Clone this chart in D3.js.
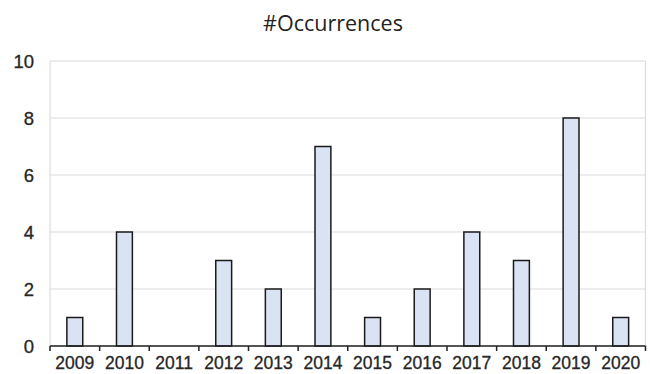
<!DOCTYPE html>
<html><head><meta charset="utf-8">
<script src="https://cdn.jsdelivr.net/npm/d3@7"></script>
<style>body{margin:0;background:#fff}svg{display:block}</style>
</head><body>
<svg id="c" width="650" height="374"></svg>
<script>
const categories = ["2009","2010","2011","2012","2013","2014","2015","2016","2017","2018","2019","2020"];
const values = [1,4,0,3,2,7,1,2,4,3,8,1];
const yTicks = [0,2,4,6,8,10];
const title = "#Occurrences";

const svg = d3.select("#c");
const m = {l:50, r:4.5, t:61, b:28};
const W = 650, H = 374;
const x = d3.scaleBand().domain(categories).range([m.l, W - m.r]).paddingInner(0).paddingOuter(0);
const y = d3.scaleLinear().domain([0,10]).range([H - m.b, m.t]);

// grid
svg.append("g").selectAll("line").data(yTicks).join("line")
  .attr("x1", m.l).attr("x2", W - m.r)
  .attr("y1", d => y(d)).attr("y2", d => y(d))
  .attr("stroke", "#dcdcdc").attr("stroke-width", 1.2);
svg.append("line").attr("x1", m.l).attr("x2", m.l).attr("y1", y(10)).attr("y2", y(0)).attr("stroke", "#dcdcdc").attr("stroke-width", 1.2);
svg.append("line").attr("x1", W - m.r).attr("x2", W - m.r).attr("y1", y(10)).attr("y2", y(0)).attr("stroke", "#dcdcdc").attr("stroke-width", 1.2);

// bars
const bw = x.bandwidth() * 0.32;
svg.append("g").selectAll("rect").data(values.map((v,i)=>({c:categories[i], v}))).join("rect")
  .filter(d => d.v > 0)
  .attr("x", d => x(d.c) + x.bandwidth()/2 - bw/2)
  .attr("width", bw)
  .attr("y", d => y(d.v))
  .attr("height", d => y(0) - y(d.v))
  .attr("fill", "#dae3f3").attr("stroke", "#1a1a1a").attr("stroke-width", 1.5);

// x axis
const xa = svg.append("g").attr("transform", `translate(0,${y(0)})`);
xa.append("line").attr("x1", m.l).attr("x2", W - m.r).attr("stroke", "#222").attr("stroke-width", 1.5);
const bounds = categories.map(c => x(c)).concat([W - m.r]);
xa.selectAll("line.t").data(bounds).join("line").attr("class","t")
  .attr("x1", d => d).attr("x2", d => d).attr("y1", 0).attr("y2", 5)
  .attr("stroke", "#222").attr("stroke-width", 1.5);
xa.selectAll("text").data(categories).join("text")
  .attr("x", d => x(d) + x.bandwidth()/2).attr("y", 23)
  .attr("text-anchor", "middle")
  .attr("font-family", "Liberation Sans, Arial, sans-serif").attr("font-size", 17.5)
  .attr("fill", "#262626").attr("stroke", "#262626").attr("stroke-width", 0.3)
  .text(d => d);

// y labels
svg.append("g").selectAll("text").data(yTicks).join("text")
  .attr("x", 34).attr("y", d => y(d)).attr("dy", "0.36em")
  .attr("text-anchor", "end")
  .attr("font-family", "Liberation Sans, Arial, sans-serif").attr("font-size", 18.5)
  .attr("fill", "#262626").attr("stroke", "#262626").attr("stroke-width", 0.3)
  .text(d => d);

// title
svg.append("text").attr("x", 333).attr("y", 31).attr("text-anchor", "middle")
  .attr("font-family", "Open Sans, sans-serif").attr("font-size", 21.5)
  .attr("fill", "#222").text(title);
</script>
</body></html>
